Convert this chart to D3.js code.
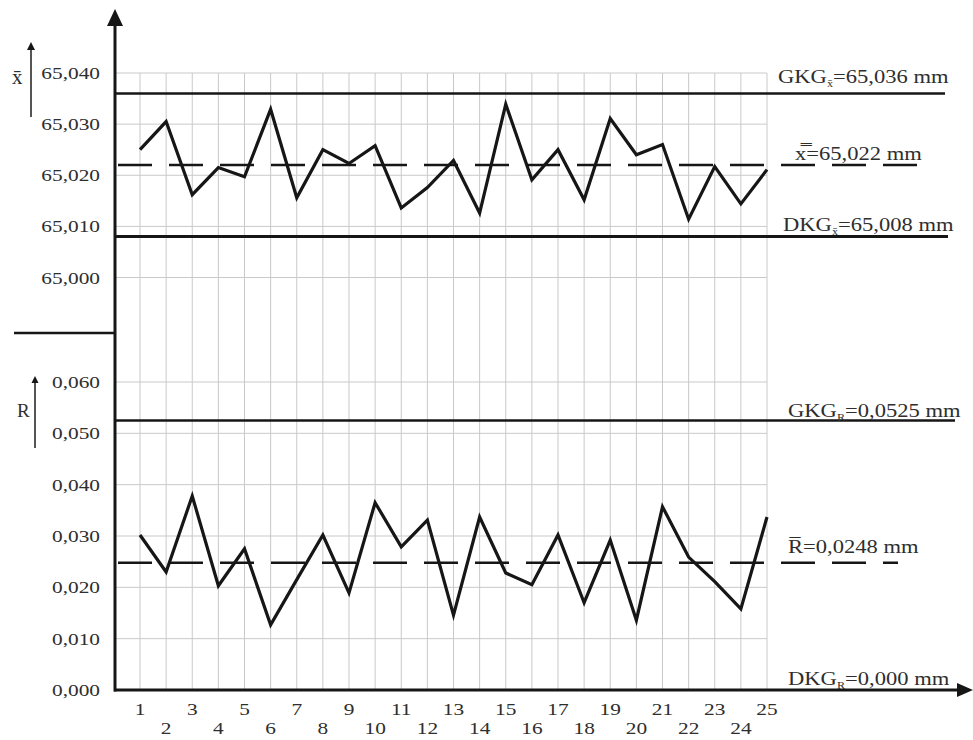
<!DOCTYPE html>
<html>
<head>
<meta charset="utf-8">
<script src="https://cdn.jsdelivr.net/npm/d3@7"></script>
<style>
  body { margin: 0; background: #fff; }
  svg text { font-family: "Liberation Serif", "Times New Roman", serif; fill: #2e2e2e; }
</style>
</head>
<body>
<svg id="chart"></svg>
<script>
// sample numbers
const samples = d3.range(1, 26);

// mean values x-bar per sample (mm)
const xbarValues = [65.025, 65.0305, 65.0162, 65.0215, 65.0197, 65.0329, 65.0156, 65.025, 65.0223, 65.0258,
                    65.0136, 65.0176, 65.0229, 65.0126, 65.0339, 65.0191, 65.025, 65.0152, 65.0311, 65.024,
                    65.026, 65.0114, 65.0217, 65.0144, 65.0211];

// ranges R per sample (mm)
const rangeValues = [0.0302, 0.023, 0.0378, 0.0203, 0.0275, 0.0127, 0.0215, 0.0302, 0.0189, 0.0365,
                     0.0279, 0.0331, 0.0146, 0.0337, 0.0228, 0.0205, 0.0302, 0.017, 0.0292, 0.0136,
                     0.0357, 0.0259, 0.0211, 0.0158, 0.0337];

// control limits
const xbarLimits = { ucl: 65.036, mean: 65.022, lcl: 65.008 };
const rangeLimits = { ucl: 0.0525, mean: 0.0248, lcl: 0.000 };

const xbarTicks = [65.000, 65.010, 65.020, 65.030, 65.040];
const rangeTicks = [0.000, 0.010, 0.020, 0.030, 0.040, 0.050, 0.060];

const width = 973;
const height = 740;
const stretch = 1.22; // the original lettering is set wide

const svg = d3.select("#chart")
    .attr("width", width)
    .attr("height", height);

const x = d3.scaleLinear().domain([1, 25]).range([140, 767]);
const yTop = d3.scaleLinear().domain([65.000, 65.040]).range([277.5, 73]);
const yBot = d3.scaleLinear().domain([0, 0.060]).range([690, 382]);

const fmt = d3.format(".3f");
const comma = v => fmt(v).replace(".", ",");

// wide text helper
function wideText(g, tx, ty, anchor, size) {
    return g.append("text")
        .attr("transform", `translate(${tx},${ty}) scale(${stretch},1)`)
        .attr("text-anchor", anchor)
        .attr("font-size", size);
}

// grid
const grid = svg.append("g")
    .attr("stroke", "#c9c9c9")
    .attr("stroke-width", 1);

grid.selectAll("line.v")
    .data(samples)
    .join("line")
    .attr("class", "v")
    .attr("x1", d => x(d)).attr("x2", d => x(d))
    .attr("y1", yTop(65.040)).attr("y2", yBot(0));

grid.selectAll("line.ht")
    .data(xbarTicks)
    .join("line")
    .attr("class", "ht")
    .attr("x1", 115).attr("x2", x(25))
    .attr("y1", d => yTop(d)).attr("y2", d => yTop(d));

grid.selectAll("line.hb")
    .data(rangeTicks.slice(1))
    .join("line")
    .attr("class", "hb")
    .attr("x1", 115).attr("x2", x(25))
    .attr("y1", d => yBot(d)).attr("y2", d => yBot(d));

// tick labels
const labels = svg.append("g");
xbarTicks.forEach(v => {
    wideText(labels, 100, yTop(v) + 6, "end", 17.5).text(comma(v));
});
rangeTicks.forEach(v => {
    wideText(labels, 100, yBot(v) + 6, "end", 17.5).text(comma(v));
});
samples.forEach(s => {
    wideText(labels, x(s), s % 2 ? 715 : 734, "middle", 17.5).text(s);
});

// control limit lines
const ink = "#161616";
const limits = svg.append("g").attr("stroke", ink).attr("fill", "none");

limits.append("line")
    .attr("x1", 115).attr("x2", 945)
    .attr("y1", yTop(xbarLimits.ucl)).attr("y2", yTop(xbarLimits.ucl))
    .attr("stroke-width", 2.5);
limits.append("line")
    .attr("x1", 115).attr("x2", 948)
    .attr("y1", yTop(xbarLimits.lcl)).attr("y2", yTop(xbarLimits.lcl))
    .attr("stroke-width", 3);
limits.append("line")
    .attr("x1", 118).attr("x2", 920)
    .attr("y1", yTop(xbarLimits.mean)).attr("y2", yTop(xbarLimits.mean))
    .attr("stroke-width", 2.5)
    .attr("stroke-dasharray", "34,17");

limits.append("line")
    .attr("x1", 115).attr("x2", 955)
    .attr("y1", yBot(rangeLimits.ucl)).attr("y2", yBot(rangeLimits.ucl))
    .attr("stroke-width", 2.5);
limits.append("line")
    .attr("x1", 118).attr("x2", 898)
    .attr("y1", yBot(rangeLimits.mean)).attr("y2", yBot(rangeLimits.mean))
    .attr("stroke-width", 2.5)
    .attr("stroke-dasharray", "34,17");

// data lines
const lineTop = d3.line()
    .x((d, i) => x(samples[i]))
    .y(d => yTop(d));
const lineBot = d3.line()
    .x((d, i) => x(samples[i]))
    .y(d => yBot(d));

svg.append("path")
    .datum(xbarValues)
    .attr("d", lineTop)
    .attr("fill", "none")
    .attr("stroke", ink)
    .attr("stroke-width", 3.2)
    .attr("stroke-linejoin", "miter");

svg.append("path")
    .datum(rangeValues)
    .attr("d", lineBot)
    .attr("fill", "none")
    .attr("stroke", ink)
    .attr("stroke-width", 3.2)
    .attr("stroke-linejoin", "miter");

// axes with arrowheads
const axes = svg.append("g").attr("stroke", ink);
axes.append("line")
    .attr("x1", 115).attr("x2", 115)
    .attr("y1", 22).attr("y2", yBot(0) + 1.5)
    .attr("stroke-width", 3);
axes.append("line")
    .attr("x1", 114).attr("x2", 960)
    .attr("y1", yBot(0)).attr("y2", yBot(0))
    .attr("stroke-width", 3);
axes.append("line")
    .attr("x1", 14).attr("x2", 115)
    .attr("y1", 333).attr("y2", 333)
    .attr("stroke-width", 2.5);

svg.append("path")
    .attr("d", "M115,9 L107,26 L123,26 Z")
    .attr("fill", ink);
svg.append("path")
    .attr("d", `M973,${yBot(0)} L957,${yBot(0) - 7} L957,${yBot(0) + 7} Z`)
    .attr("fill", ink);

// small axis symbols with arrows
const sym = svg.append("g");
sym.append("line")
    .attr("x1", 31).attr("x2", 31).attr("y1", 117).attr("y2", 48)
    .attr("stroke", "#555").attr("stroke-width", 2);
sym.append("path").attr("d", "M31,42 L27,50 L35,50 Z").attr("fill", ink);
sym.append("text").attr("x", 12).attr("y", 84).attr("font-size", 21).text("x\u0304");

sym.append("line")
    .attr("x1", 35).attr("x2", 35).attr("y1", 448).attr("y2", 381)
    .attr("stroke", "#555").attr("stroke-width", 2);
sym.append("path").attr("d", "M35,376 L31.5,383 L38.5,383 Z").attr("fill", ink);
sym.append("text").attr("x", 17).attr("y", 417).attr("font-size", 19).text("R");

// control limit labels
function limitLabel(tx, ty, head, sub, tail) {
    const t = wideText(svg, tx, ty, "start", 18.5);
    t.append("tspan").text(head);
    if (sub) {
        t.append("tspan").attr("font-size", 10).attr("dy", 4).text(sub);
        t.append("tspan").attr("dy", -4).text(tail);
    } else {
        t.append("tspan").text(tail);
    }
    return t;
}

limitLabel(778, 83, "GKG", "x\u0304", "=" + comma(xbarLimits.ucl) + " mm");
limitLabel(795, 160, "x\u033F", null, "=" + comma(xbarLimits.mean) + " mm");
limitLabel(783, 231, "DKG", "x\u0304", "=" + comma(xbarLimits.lcl) + " mm");
limitLabel(788, 417, "GKG", "R", "=" + d3.format(".4f")(rangeLimits.ucl).replace(".", ",") + " mm");
limitLabel(788, 553, "R\u0305", null, "=" + d3.format(".4f")(rangeLimits.mean).replace(".", ",") + " mm");
limitLabel(788, 685, "DKG", "R", "=" + comma(rangeLimits.lcl) + " mm");
</script>
</body>
</html>
